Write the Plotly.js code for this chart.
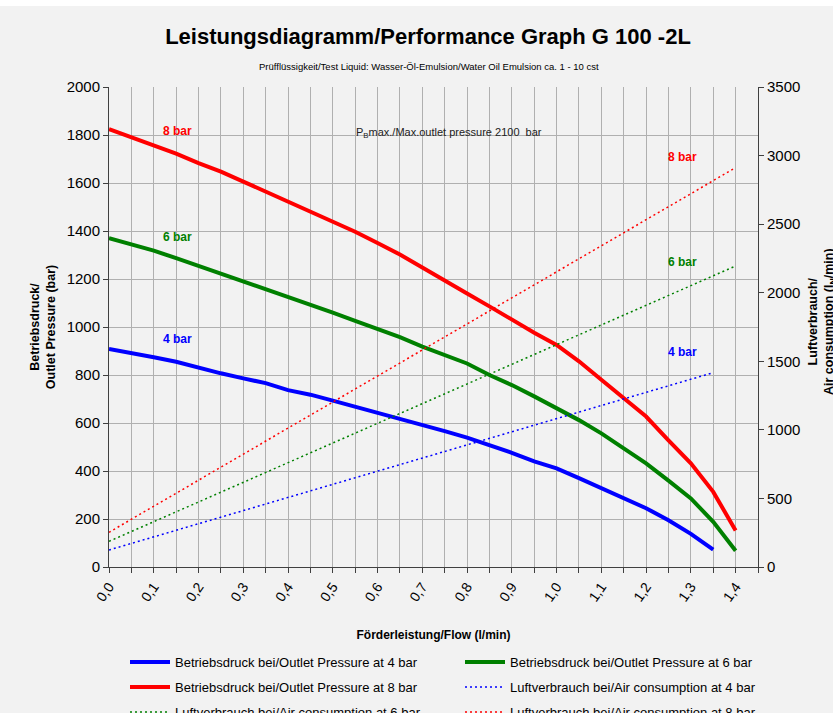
<!DOCTYPE html>
<html>
<head>
<meta charset="utf-8">
<script src="https://cdn.plot.ly/plotly-3.0.1.min.js"></script>
<style>html,body{margin:0;padding:0;background:#f2f2f2;}</style>
</head>
<body>
<div id="chart" style="width:833px;height:713px;"></div>
<script>
// Flow (l/min)
const flow = [0,0.05,0.1,0.15,0.2,0.25,0.3,0.35,0.4,0.45,0.5,0.55,0.6,0.65,0.7,0.75,0.8,0.85,0.9,0.95,1.0,1.05,1.1,1.15,1.2,1.25,1.3,1.35,1.4];
const flow4 = [0,0.05,0.1,0.15,0.2,0.25,0.3,0.35,0.4,0.45,0.5,0.55,0.6,0.65,0.7,0.75,0.8,0.85,0.9,0.95,1.0,1.05,1.1,1.15,1.2,1.25,1.3,1.35];
// Outlet pressure (bar)
const press4 = [908,893,874,855,829,807,786,766,737,718,693,668,644,620,592,566,539,508,476,440,411,370,328,287,245,195,138,72];
const press6 = [1370,1345,1318,1287,1255,1220,1190,1158,1126,1096,1060,1026,991,958,918,881,848,800,758,711,661,612,557,495,432,360,286,188,68];
const press8 = [1824,1790,1758,1722,1683,1647,1606,1565,1522,1481,1439,1397,1350,1302,1248,1196,1140,1086,1030,976,925,857,780,705,627,528,432,313,152];
// Air consumption (lN/min)
const airFlow4 = [0,0.2,0.4,0.6,0.8,1.0,1.2,1.35];
const air4 = [124,316,507,700,890,1082,1275,1417];
const airFlow = [0,0.2,0.4,0.6,0.8,1.0,1.2,1.4];
const air6 = [187,474,760,1047,1334,1621,1908,2195];
const air8 = [253,633,1013,1393,1773,2153,2532,2912];

const names = [
  'Betriebsdruck bei/Outlet Pressure at 4 bar',
  'Betriebsdruck bei/Outlet Pressure at 6 bar',
  'Betriebsdruck bei/Outlet Pressure at 8 bar',
  'Luftverbrauch bei/Air consumption at 4 bar',
  'Luftverbrauch bei/Air consumption at 6 bar',
  'Luftverbrauch bei/Air consumption at 8 bar'
];

const FONT = 'Liberation Sans, Arial, sans-serif';
const BLUE = '#0000ff', GREEN = '#008000', RED = '#ff0000';
const DOTS = '2px,3px';

// Legend column 1: 4 bar, 8 bar, air 6 bar; column 2: 6 bar, air 4 bar, air 8 bar
const traces = [
  {x: flow4, y: press4, name: names[0], legend: 'legend', legendgroup: 'a', legendrank: 1, mode: 'lines', line: {color: BLUE, width: 4}},
  {x: flow, y: press6, name: names[1], legend: 'legend2', legendgroup: 'b', legendrank: 1, mode: 'lines', line: {color: GREEN, width: 4}},
  {x: flow, y: press8, name: names[2], legend: 'legend', legendgroup: 'c', legendrank: 2, mode: 'lines', line: {color: RED, width: 4}},
  {x: airFlow4, y: air4, name: names[3], legend: 'legend2', legendgroup: 'd', legendrank: 2, mode: 'lines', yaxis: 'y2', line: {color: BLUE, width: 1.5, dash: DOTS}},
  {x: airFlow, y: air6, name: names[4], legend: 'legend', legendgroup: 'e', legendrank: 3, mode: 'lines', yaxis: 'y2', line: {color: GREEN, width: 1.5, dash: DOTS}},
  {x: airFlow, y: air8, name: names[5], legend: 'legend2', legendgroup: 'f', legendrank: 3, mode: 'lines', yaxis: 'y2', line: {color: RED, width: 1.5, dash: DOTS}}
];

const GRID = '#b0b0b0', AX = '#404040';
const legendBase = {
  orientation: 'v', xanchor: 'left', y: -0.167, yanchor: 'top',
  itemwidth: 40, tracegroupgap: 5,
  font: {family: FONT, size: 13, color: '#000'},
  bgcolor: 'rgba(0,0,0,0)', traceorder: 'grouped'
};
const layout = {
  width: 833, height: 713,
  margin: {l: 109, r: 75, t: 87, b: 146, autoexpand: false},
  paper_bgcolor: '#f2f2f2', plot_bgcolor: '#f2f2f2',
  separators: ',.',
  font: {family: FONT, color: '#000'},
  title: {
    text: '<b>Leistungsdiagramm/Performance Graph G 100 -2L</b>',
    font: {family: FONT, size: 22, color: '#000'},
    xref: 'container', x: 428/833, xanchor: 'center',
    yref: 'container', y: 1 - 36/713, yanchor: 'middle'
  },
  showlegend: true,
  legend: Object.assign({}, legendBase, {x: 16/649}),
  legend2: Object.assign({}, legendBase, {x: 351/649}),
  xaxis: {
    range: [0, 1.45], tick0: 0, dtick: 0.1, tickformat: '.1f',
    showgrid: true, gridcolor: GRID, gridwidth: 1, zeroline: false,
    showline: true, linecolor: AX, linewidth: 1,
    ticks: 'outside', ticklen: 5, tickcolor: AX, tickangle: -55,
    tickfont: {family: FONT, size: 14, color: '#000'},
    minor: {dtick: 0.05, tick0: 0, showgrid: true, gridcolor: GRID, gridwidth: 1, ticks: 'outside', ticklen: 5, tickcolor: AX},
    title: {text: '<b>Förderleistung/Flow (l/min)</b>', font: {family: FONT, size: 12, color: '#000'}, standoff: 27}
  },
  yaxis: {
    range: [0, 2000], dtick: 200, showgrid: true, gridcolor: GRID, gridwidth: 1, zeroline: false,
    showline: true, linecolor: AX, linewidth: 1, ticks: 'outside', ticklen: 5, tickcolor: AX,
    tickfont: {family: FONT, size: 15, color: '#000'},
    title: {text: '<b>Betriebsdruck/<br>Outlet Pressure (bar)</b>', font: {family: FONT, size: 12.5, color: '#000'}, standoff: 8}
  },
  yaxis2: {
    overlaying: 'y', side: 'right', range: [0, 3500], dtick: 500,
    showgrid: false, zeroline: false, showline: true, linecolor: AX, linewidth: 1,
    ticks: 'outside', ticklen: 5, tickcolor: AX,
    tickfont: {family: FONT, size: 15, color: '#000'}
  },
  shapes: [
    {type: 'rect', xref: 'paper', yref: 'paper', x0: -0.2, x1: 1.2, y0: 1 + 81/480, y1: 1.25, fillcolor: '#ffffff', line: {width: 0}, layer: 'below'}
  ],
  annotations: [
    {xref: 'paper', yref: 'paper', x: (429-109)/649, y: 1 + (567-66-480)/480, xanchor: 'center', yanchor: 'middle', showarrow: false,
     text: 'Prüfflüssigkeit/Test Liquid: Wasser-Öl-Emulsion/Water Oil Emulsion ca. 1 - 10 cst', font: {family: FONT, size: 9.5, color: '#000'}},
    {xref: 'paper', yref: 'paper', x: (822-109)/649, y: (567-322)/480, xanchor: 'center', yanchor: 'middle', textangle: -90, showarrow: false,
     text: '<b>Luftverbrauch/<br>Air consumption (l<sub>N</sub>/min)</b>', font: {family: FONT, size: 12.5, color: '#000'}},
    {x: 0.759, y: 1808, xanchor: 'center', yanchor: 'middle', showarrow: false,
     text: 'P<sub>B</sub>max./Max.outlet pressure 2100  bar', font: {family: FONT, size: 11, color: '#222'}},
    {x: 0.154, y: 1817, showarrow: false, text: '<b>8 bar</b>', font: {family: FONT, size: 12, color: RED}},
    {x: 0.154, y: 1375, showarrow: false, text: '<b>6 bar</b>', font: {family: FONT, size: 12, color: GREEN}},
    {x: 0.154, y: 950, showarrow: false, text: '<b>4 bar</b>', font: {family: FONT, size: 12, color: BLUE}},
    {x: 1.281, y: 1708, showarrow: false, text: '<b>8 bar</b>', font: {family: FONT, size: 12, color: RED}},
    {x: 1.281, y: 1271, showarrow: false, text: '<b>6 bar</b>', font: {family: FONT, size: 12, color: GREEN}},
    {x: 1.281, y: 896, showarrow: false, text: '<b>4 bar</b>', font: {family: FONT, size: 12, color: BLUE}}
  ]
};

Plotly.newPlot('chart', traces, layout, {displayModeBar: false, staticPlot: true});
</script>
</body>
</html>
